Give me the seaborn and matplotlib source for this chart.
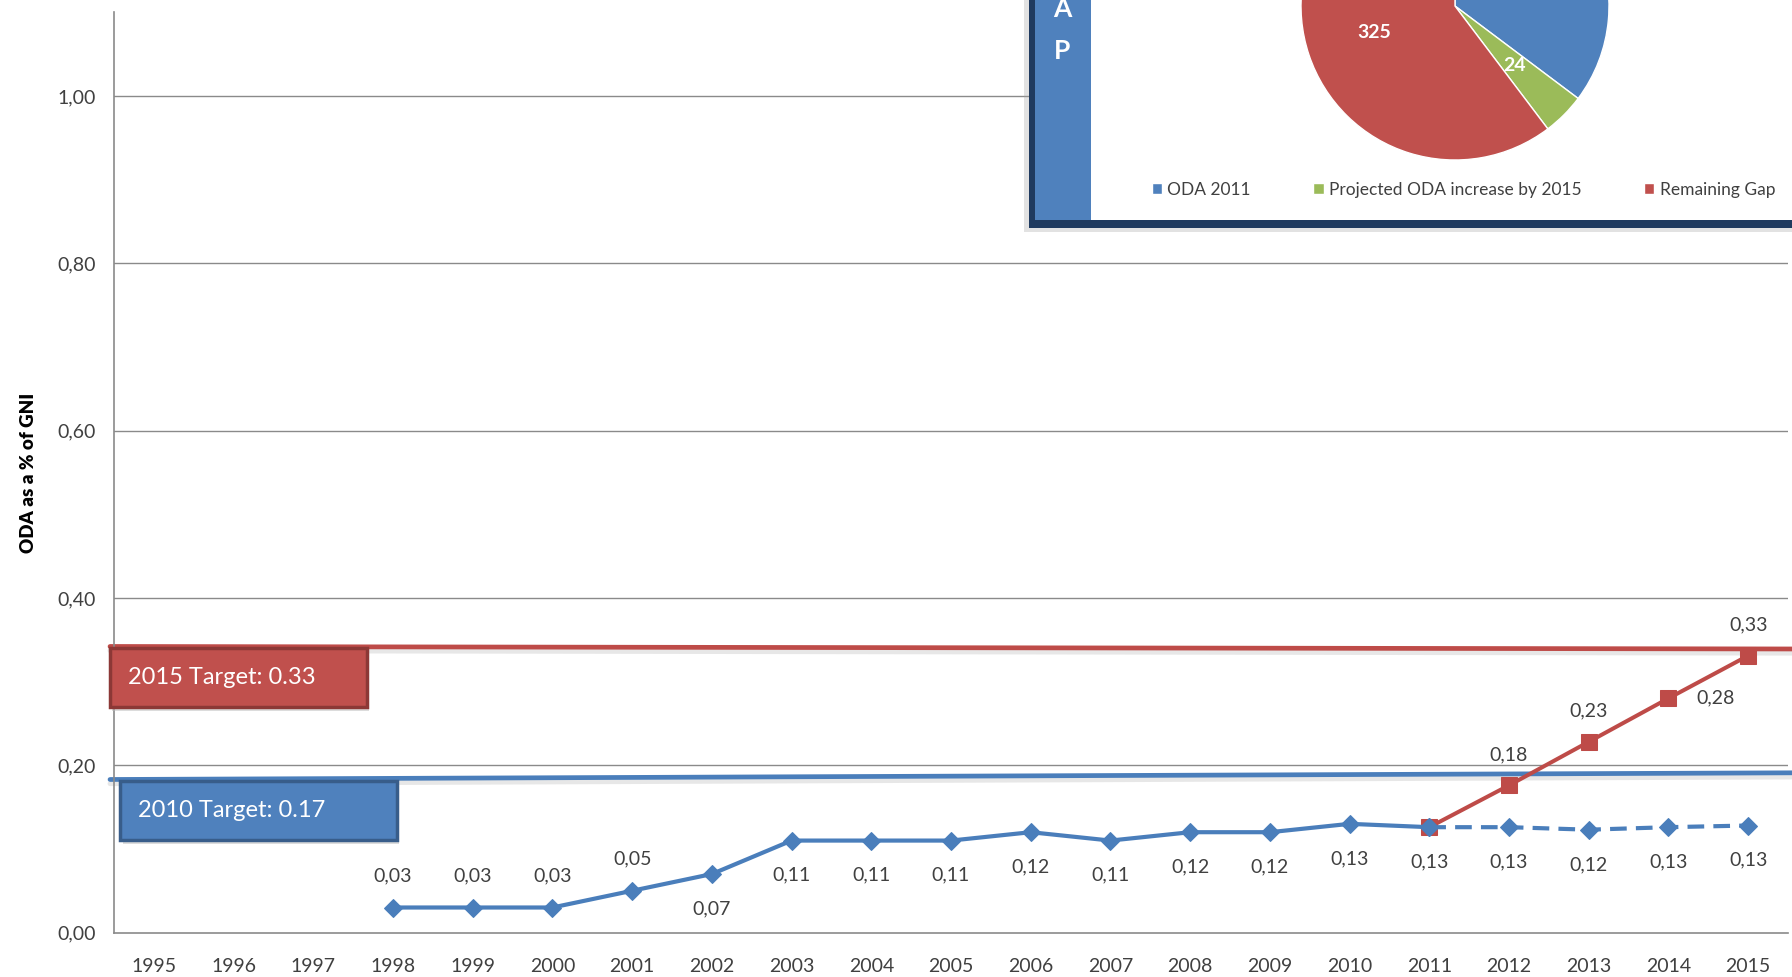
import numpy as np
import pandas as pd
import matplotlib
matplotlib.use("Agg")
import matplotlib.pyplot as plt
import seaborn as sns
from matplotlib.patches import Rectangle
from matplotlib.ticker import FuncFormatter, FixedLocator

# data
years = list(range(1995, 2016))
actual_years = list(range(1998, 2012))
actual_oda = [0.03, 0.03, 0.03, 0.05, 0.07, 0.11, 0.11, 0.11, 0.12, 0.11, 0.12, 0.12, 0.13, 0.126]
proj_years = [2011, 2012, 2013, 2014, 2015]
proj_oda = [0.126, 0.126, 0.123, 0.126, 0.128]
path_years = [2011, 2012, 2013, 2014, 2015]
path_oda = [0.126, 0.176, 0.228, 0.28, 0.331]

# hand drawn target lines (start / end height) and their captions
target_2015_line = [0.342, 0.339]
target_2010_line = [0.183, 0.191]
target_2015_text = "2015 Target: 0.33"
target_2010_text = "2010 Target: 0.17"

pie_labels = ["ODA 2011", "Projected ODA increase by 2015", "Remaining Gap"]
pie_values = [190, 24, 325]

BLUE = "#4A7EBB"
RED = "#BE4B48"
GREEN = "#9BBB59"
NAVY = "#1F3A5F"
TXT = "#404040"

sns.set_style("white")
plt.rcParams["font.family"] = ["Lato", "DejaVu Sans"]

W, H = 1792, 977
fig = plt.figure(figsize=(W / 100, H / 100), dpi=100)
ax = fig.add_axes([114 / W, 1 - 932.6 / H, 1674 / W, (932.6 - 12.3) / H])

actual = pd.DataFrame({"year": actual_years, "oda": actual_oda})
proj = pd.DataFrame({"year": proj_years, "oda": proj_oda})
path = pd.DataFrame({"year": path_years, "oda": path_oda})

# grid
for gy in [0.2, 0.4, 0.6, 0.8, 1.0]:
    ax.axhline(gy, color="#8a8a8a", lw=1.0, zorder=0)

# target lines with a soft shadow
xl = [1994.45, 2015.6]
for ys, col in [(target_2015_line, RED), (target_2010_line, BLUE)]:
    ax.plot(xl, [y - 0.005 for y in ys], color="#d0d0d0", lw=3.5, alpha=0.5, zorder=1, clip_on=False)
    ax.plot(xl, ys, color=col, lw=3.4, zorder=2, clip_on=False)

sns.lineplot(data=path, x="year", y="oda", ax=ax, color=RED, lw=2.9, marker="s",
             markersize=11, markeredgecolor=RED, zorder=4)
sns.lineplot(data=proj, x="year", y="oda", ax=ax, color=BLUE, lw=3.0, linestyle=(0, (4, 2.2)),
             marker="D", markersize=9.5, markeredgecolor=BLUE, zorder=5)
sns.lineplot(data=actual, x="year", y="oda", ax=ax, color=BLUE, lw=3.0, marker="D",
             markersize=9.5, markeredgecolor=BLUE, zorder=5)

# data labels
lab_kw = dict(textcoords="offset points", ha="center", va="center", fontsize=14, color=TXT)
for i, (x, y) in enumerate(zip(actual_years, actual_oda)):
    dy = 23 if i < 4 else -25
    ax.annotate(f"{y:.2f}".replace(".", ","), (x, y), xytext=(0, dy), **lab_kw)
for x, y in zip(proj_years[1:], proj_oda[1:]):
    ax.annotate(f"{y:.2f}".replace(".", ","), (x, y), xytext=(0, -25), **lab_kw)
for x, y in zip(path_years[1:], path_oda[1:]):
    off = (34, 0) if x == 2014 else (0, 22)
    ax.annotate(f"{y:.2f}".replace(".", ","), (x, y), xytext=off, **lab_kw)

# caption boxes
for (x0, x1, y0, y1), fc, ec, txt in [((1994.45, 1997.67, 0.270, 0.340), "#C0504D", "#8C3836", target_2015_text),
                                      ((1994.58, 1998.05, 0.111, 0.181), "#4F81BD", "#385D8A", target_2010_text)]:
    ax.add_patch(Rectangle((x0 + 0.03, y0 - 0.005), x1 - x0, y1 - y0, fc="#bbbbbb", ec="none",
                           alpha=0.5, zorder=6, clip_on=False))
    ax.add_patch(Rectangle((x0, y0), x1 - x0, y1 - y0, fc=fc, ec=ec, lw=2.5, zorder=7, clip_on=False))
    ax.text(x0 + 0.22, (y0 + y1) / 2, txt, color="white", fontsize=17, va="center", ha="left", zorder=8)

# axes styling
ax.set_xlim(1994.5, 2015.5)
ax.set_ylim(0, 1.1)
ax.xaxis.set_major_locator(FixedLocator(years))
ax.xaxis.set_minor_locator(FixedLocator([y + 0.5 for y in years[:-1]] + [1994.5, 2015.5]))
ax.yaxis.set_major_locator(FixedLocator([0, 0.2, 0.4, 0.6, 0.8, 1.0]))
ax.yaxis.set_major_formatter(FuncFormatter(lambda v, p: f"{v:.2f}".replace(".", ",")))
ax.tick_params(axis="x", which="major", length=0, pad=18, labelsize=14, labelcolor=TXT)
ax.tick_params(axis="x", which="minor", length=8, width=1, color="#8a8a8a", direction="out")
ax.tick_params(axis="y", length=7, width=1, color="#8a8a8a", direction="out", labelsize=14,
               labelcolor=TXT, pad=6)
for s in ["top", "right"]:
    ax.spines[s].set_visible(False)
for s in ["left", "bottom"]:
    ax.spines[s].set_color("#8a8a8a")
    ax.spines[s].set_linewidth(1.2)
ax.set_xlabel("")
ax.set_ylabel("ODA as a % of GNI", fontsize=13.5, fontweight="heavy", color="black")
ax.yaxis.set_label_coords(-0.046, 0.5)


# inset panel (top right), drawn in figure pixels
def fig_rect(x0, y0, x1, y1, **kw):
    r = Rectangle((x0 / W, 1 - y1 / H), (x1 - x0) / W, (y1 - y0) / H, transform=fig.transFigure, **kw)
    fig.add_artist(r)
    return r


fig_rect(1024, -20, 1810, 232, fc="#a0a0a0", ec="none", alpha=0.3, zorder=2)
fig_rect(1029, -20, 1810, 228, fc=NAVY, ec="none", zorder=3)
fig_rect(1035, -20, 1091, 220, fc="#4F81BD", ec="none", zorder=4)
fig_rect(1091, -20, 1810, 220, fc="white", ec="none", zorder=4)
fig.text(1062 / W, 1 - 9 / H, "A", color="white", fontsize=19, fontweight="bold", ha="center", va="center", zorder=6)
fig.text(1062 / W, 1 - 51 / H, "P", color="white", fontsize=19, fontweight="bold", ha="center", va="center", zorder=6)

r = 154
pax = fig.add_axes([(1455 - r) / W, 1 - (6 + r) / H, 2 * r / W, 2 * r / H])
pax.set_zorder(7)
total = sum(pie_values)
wedges, _, autotexts = pax.pie(pie_values, colors=["#4F81BD", GREEN, "#C0504D"], startangle=90,
                               counterclock=False, radius=1, pctdistance=0.55,
                               autopct=lambda p: f"{p * total / 100:.0f}",
                               wedgeprops=dict(edgecolor="white", linewidth=1),
                               textprops=dict(color="white", fontsize=14, fontweight="bold"))
# the label of the blue slice sits above the visible part of the picture
autotexts[0].set_visible(False)
pax.set_xlim(-1, 1)
pax.set_ylim(-1, 1)
pax.set_aspect("equal")
pax.axis("off")

fig.legend(wedges, pie_labels, loc="center left", bbox_to_anchor=(1136 / W, 1 - 190 / H), ncol=3,
           frameon=False, fontsize=12.5, handlelength=0.6, handleheight=0.6, handletextpad=0.3,
           columnspacing=3.6, labelcolor=TXT)

fig.savefig("out.png", dpi=100)
